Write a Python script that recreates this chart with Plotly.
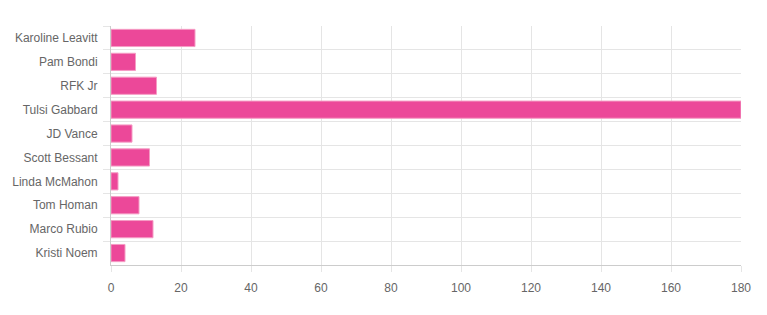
import plotly.graph_objects as go

names = ["Karoline Leavitt", "Pam Bondi", "RFK Jr", "Tulsi Gabbard", "JD Vance",
         "Scott Bessant", "Linda McMahon", "Tom Homan", "Marco Rubio", "Kristi Noem"]
values = [24, 7, 13, 180, 6, 11, 2, 8, 12, 4]
x_ticks = [0, 20, 40, 60, 80, 100, 120, 140, 160, 180]

font = dict(family="Liberation Sans, Arial, Helvetica, sans-serif", size=12, color="#666666")

fig = go.Figure(go.Bar(
    x=values, y=names, orientation="h",
    marker=dict(color="#ec4899", line=dict(color="#f59cc4", width=1)),
    width=0.72,
))

fig.update_layout(
    width=767, height=315,
    margin=dict(l=111, r=26, t=26, b=50),
    paper_bgcolor="white", plot_bgcolor="white",
    font=font, showlegend=False, bargap=0.28,
)
fig.update_xaxes(
    range=[0, 180], tickvals=x_ticks, ticktext=[str(v) for v in x_ticks],
    showgrid=True, gridcolor="#e5e5e5", gridwidth=1,
    zeroline=False, showline=True, linecolor="#cccccc", linewidth=1,
    ticks="outside", ticklen=6, tickcolor="#e5e5e5", tickfont=font,
    ticklabelstandoff=6,
)
fig.update_yaxes(
    categoryorder="array", categoryarray=names, autorange="reversed",
    showgrid=True, gridcolor="#e5e5e5", gridwidth=1,
    tickson="boundaries", ticks="outside", ticklen=7, tickcolor="#e5e5e5",
    showline=True, linecolor="#cccccc", linewidth=1, zeroline=False,
    ticklabelstandoff=10, tickfont=font,
)
fig.write_html("out.html")
